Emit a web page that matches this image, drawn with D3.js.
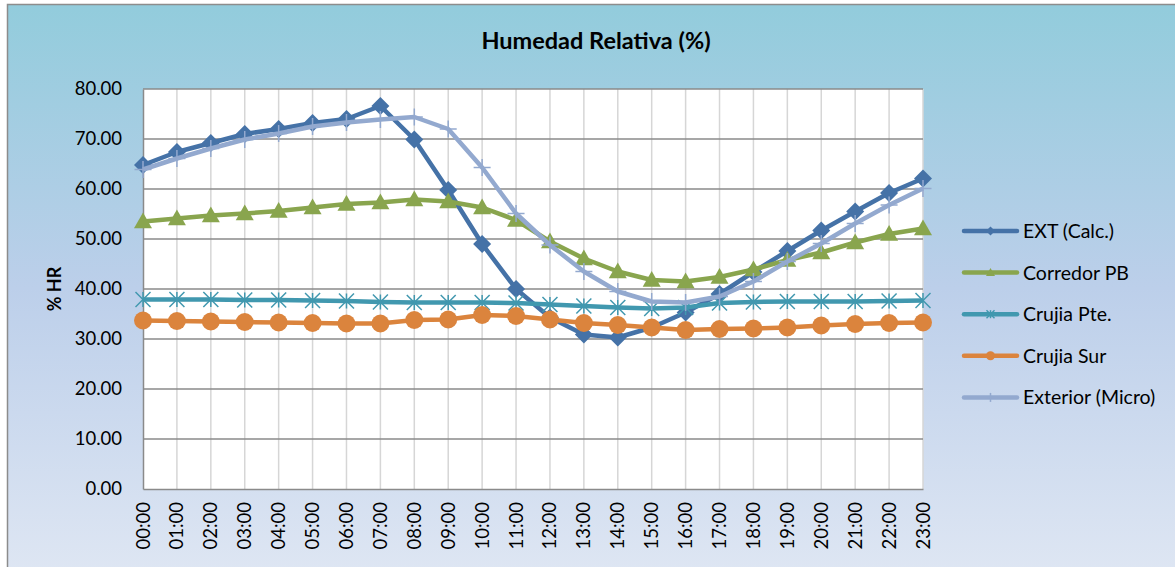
<!DOCTYPE html>
<html>
<head>
<meta charset="utf-8">
<script src="https://cdn.jsdelivr.net/npm/d3@7"></script>
<style>
  body { margin: 0; background: #fff; }
  svg { display: block; font-family: Lato, "Noto Sans", sans-serif; }
</style>
</head>
<body>
<div id="chart"></div>
<script>
const hours = ["00:00","01:00","02:00","03:00","04:00","05:00","06:00","07:00","08:00","09:00","10:00","11:00",
  "12:00","13:00","14:00","15:00","16:00","17:00","18:00","19:00","20:00","21:00","22:00","23:00"]
const extCalc = [64.8, 67.4, 69.2, 71.0, 72.0, 73.2, 74.0, 76.6, 69.9, 59.8, 49.0, 40.0,
  34.3, 30.9, 30.3, 32.3, 35.3, 39.0, 43.4, 47.6, 51.7, 55.5, 59.2, 62.1]
const corredorPB = [53.5, 54.1, 54.7, 55.1, 55.6, 56.3, 57.0, 57.3, 57.9, 57.5, 56.3, 53.8,
  49.5, 46.1, 43.5, 41.8, 41.5, 42.4, 43.9, 45.8, 47.3, 49.3, 51.0, 52.1]
const crujiaPte = [37.9, 37.9, 37.9, 37.8, 37.8, 37.7, 37.6, 37.4, 37.3, 37.3, 37.3, 37.2,
  36.9, 36.6, 36.3, 36.1, 36.3, 37.2, 37.4, 37.5, 37.5, 37.5, 37.6, 37.7]
const crujiaSur = [33.7, 33.6, 33.5, 33.4, 33.3, 33.2, 33.1, 33.1, 33.8, 33.9, 34.8, 34.6,
  33.9, 33.2, 32.8, 32.3, 31.8, 32.0, 32.1, 32.3, 32.7, 33.0, 33.2, 33.3]
const extMicro = [63.9, 66.1, 68.1, 69.9, 71.1, 72.5, 73.3, 73.9, 74.4, 72.0, 64.3, 55.1,
  48.8, 43.5, 39.5, 37.5, 37.3, 38.5, 41.5, 45.5, 49.1, 53.1, 56.8, 60.1]
const seriesNames = ["EXT (Calc.)", "Corredor PB", "Crujia Pte.", "Crujia Sur", "Exterior (Micro)"]
const yTicks = [0, 10, 20, 30, 40, 50, 60, 70, 80]

const width = 1175
const height = 567
const plot = { left: 143, right: 923, top: 89, bottom: 489 }

const series = [
  { name: seriesNames[0], values: extCalc, color: "#4572A7", marker: "diamond" },
  { name: seriesNames[1], values: corredorPB, color: "#89A54E", marker: "triangle" },
  { name: seriesNames[2], values: crujiaPte, color: "#4198AF", marker: "star" },
  { name: seriesNames[3], values: crujiaSur, color: "#DB843D", marker: "circle" },
  { name: seriesNames[4], values: extMicro, color: "#93A9CF", marker: "plus" }
]

const svg = d3.select("#chart").append("svg")
  .attr("width", width)
  .attr("height", height)

const defs = svg.append("defs")
const grad = defs.append("linearGradient")
  .attr("id", "bg").attr("x1", 0).attr("y1", 0).attr("x2", 0).attr("y2", 1)
grad.append("stop").attr("offset", "0%").attr("stop-color", "#92CCDC")
grad.append("stop").attr("offset", "50%").attr("stop-color", "#BCCFEA")
grad.append("stop").attr("offset", "100%").attr("stop-color", "#DEE6F3")

svg.append("rect")
  .attr("x", 7.5).attr("y", 4.5)
  .attr("width", width).attr("height", height)
  .attr("fill", "url(#bg)")
  .attr("stroke", "#8C8C8C")
  .attr("stroke-width", 1.5)

const x = d3.scalePoint().domain(hours).range([plot.left, plot.right])
const y = d3.scaleLinear().domain([0, 80]).range([plot.bottom, plot.top])

svg.append("rect")
  .attr("x", plot.left).attr("y", plot.top)
  .attr("width", plot.right - plot.left).attr("height", plot.bottom - plot.top)
  .attr("fill", "#fff")

// vertical grid
svg.append("g")
  .selectAll("line")
  .data(hours.slice(1))
  .join("line")
  .attr("x1", d => x(d)).attr("x2", d => x(d))
  .attr("y1", plot.top).attr("y2", plot.bottom)
  .attr("stroke", "#D6D6D6").attr("stroke-width", 1.5)

// horizontal grid
svg.append("g")
  .selectAll("line")
  .data(yTicks.slice(1))
  .join("line")
  .attr("x1", plot.left).attr("x2", plot.right)
  .attr("y1", d => y(d)).attr("y2", d => y(d))
  .attr("stroke", "#8A8A8A").attr("stroke-width", 1.5)

const yAxis = d3.axisLeft(y).tickValues(yTicks).tickFormat(d3.format(".2f")).tickSize(0).tickPadding(21)
svg.append("g")
  .attr("transform", `translate(${plot.left},0)`)
  .call(yAxis)
  .call(g => g.select(".domain").attr("stroke", "#8A8A8A").attr("stroke-width", 1.5))
  .selectAll("text")
  .attr("font-size", 18.5).attr("fill", "#000").attr("font-family", "Lato, 'Noto Sans', sans-serif")

const xAxis = d3.axisBottom(x).tickSize(0).tickPadding(0)
svg.append("g")
  .attr("transform", `translate(0,${plot.bottom})`)
  .call(xAxis)
  .call(g => g.select(".domain").attr("stroke", "#8A8A8A").attr("stroke-width", 1.5))
  .selectAll("text")
  .attr("font-size", 18.5).attr("fill", "#000").attr("font-family", "Lato, 'Noto Sans', sans-serif")
  .attr("text-anchor", "end")
  .attr("dy", null)
  .attr("transform", "translate(6,13) rotate(-90)")

svg.append("text")
  .attr("x", 596).attr("y", 49)
  .attr("text-anchor", "middle")
  .attr("font-size", 23.5).attr("font-weight", "bold")
  .text("Humedad Relativa (%)")

svg.append("text")
  .attr("transform", `translate(61,289) rotate(-90)`)
  .attr("text-anchor", "middle")
  .attr("font-size", 18).attr("font-weight", "bold")
  .text("% HR")

const line = d3.line()
  .x((d, i) => x(hours[i]))
  .y(d => y(d))

const drawMarker = (g, type, color, cx, cy, s) => {
  if (type === "diamond") {
    g.append("path").attr("d", `M${cx},${cy - s}L${cx + s},${cy}L${cx},${cy + s}L${cx - s},${cy}Z`).attr("fill", color)
  } else if (type === "triangle") {
    g.append("path").attr("d", `M${cx},${cy - s}L${cx + s},${cy + s * 0.75}L${cx - s},${cy + s * 0.75}Z`).attr("fill", color)
  } else if (type === "circle") {
    g.append("circle").attr("cx", cx).attr("cy", cy).attr("r", s).attr("fill", color)
  } else if (type === "star") {
    const p = g.append("g").attr("stroke", color).attr("stroke-width", 1.5)
    p.append("line").attr("x1", cx - s).attr("x2", cx + s).attr("y1", cy - s).attr("y2", cy + s)
    p.append("line").attr("x1", cx - s).attr("x2", cx + s).attr("y1", cy + s).attr("y2", cy - s)
    p.append("line").attr("x1", cx).attr("x2", cx).attr("y1", cy - s).attr("y2", cy + s)
  } else if (type === "plus") {
    const p = g.append("g").attr("stroke", color).attr("stroke-width", 1.5)
    p.append("line").attr("x1", cx - s).attr("x2", cx + s).attr("y1", cy).attr("y2", cy)
    p.append("line").attr("x1", cx).attr("x2", cx).attr("y1", cy - s).attr("y2", cy + s)
  }
}

const markerSize = { diamond: 9, triangle: 9, circle: 9, star: 7.5, plus: 8.5 }

series.forEach(s => {
  const g = svg.append("g")
  g.append("path")
    .datum(s.values)
    .attr("d", line)
    .attr("fill", "none")
    .attr("stroke", s.color)
    .attr("stroke-width", 4.5)
    .attr("stroke-linejoin", "round")
  s.values.forEach((v, i) => drawMarker(g, s.marker, s.color, x(hours[i]), y(v), markerSize[s.marker]))
})

// legend
const legend = svg.append("g")
series.forEach((s, i) => {
  const ly = 231 + i * 41.6
  const g = legend.append("g")
  g.append("line")
    .attr("x1", 964).attr("x2", 1017)
    .attr("y1", ly).attr("y2", ly)
    .attr("stroke", s.color).attr("stroke-width", 4.5).attr("stroke-linecap", "round")
  drawMarker(g, s.marker, s.color, 990.5, ly, s.marker === "star" ? 4 : 4.5)
  g.append("text")
    .attr("x", 1023).attr("y", ly + 7)
    .attr("font-size", 19.5)
    .text(s.name)
})
</script>
</body>
</html>
